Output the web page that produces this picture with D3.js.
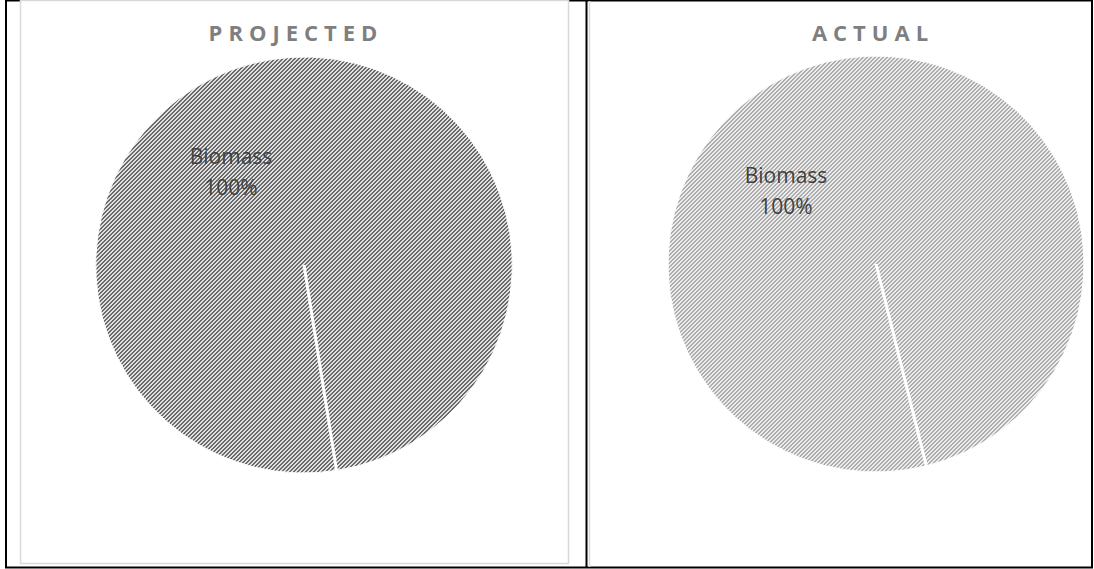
<!DOCTYPE html>
<html>
<head>
<meta charset="utf-8">
<script src="https://cdn.jsdelivr.net/npm/d3@7"></script>
<style>
  html, body { margin: 0; padding: 0; background: #fff; }
  svg { display: block; }
</style>
</head>
<body>
<div id="chart"></div>
<script>
// chart data
var panelTitles = ["PROJECTED", "ACTUAL"];
var categories = ["Biomass"];
var projectedValues = [100];
var actualValues = [100];

var width = 1094, height = 569;

var svg = d3.select("#chart").append("svg")
    .attr("width", width)
    .attr("height", height);

// table borders
svg.append("rect")
    .attr("x", 6).attr("y", 0.5)
    .attr("width", 1086).attr("height", 567)
    .attr("fill", "#fff")
    .attr("stroke", "#000")
    .attr("stroke-width", 2);
svg.append("line")
    .attr("x1", 586.5).attr("x2", 586.5)
    .attr("y1", 0).attr("y2", 568)
    .attr("stroke", "#000").attr("stroke-width", 2);

// chart frames
svg.append("rect")
    .attr("x", 20.5).attr("y", 0.5)
    .attr("width", 548).attr("height", 563)
    .attr("fill", "#fff")
    .attr("stroke", "#d9d9d9")
    .attr("stroke-width", 1.5);
svg.append("line")
    .attr("x1", 589.5).attr("x2", 589.5)
    .attr("y1", 1).attr("y2", 567)
    .attr("stroke", "#d9d9d9").attr("stroke-width", 1.5);

// hatch patterns
var defs = svg.append("defs");
function hatch(id, bg, fg) {
    var p = defs.append("pattern")
        .attr("id", id)
        .attr("patternUnits", "userSpaceOnUse")
        .attr("width", 4).attr("height", 4);
    p.append("rect").attr("width", 4).attr("height", 4).attr("fill", bg);
    d3.range(4).forEach(function(i) {
        [0, 1].forEach(function(k) {
            p.append("rect")
                .attr("x", i)
                .attr("y", (3 - i + k) % 4)
                .attr("width", 1).attr("height", 1)
                .attr("fill", fg)
                .attr("shape-rendering", "crispEdges");
        });
    });
}
hatch("hatchDark", "#e0e0e0", "#6a6a6a");
hatch("hatchLight", "#ececec", "#adadad");

var panels = [
    { title: panelTitles[0], values: projectedValues, cx: 304, cy: 265, titleX: 296,
      start: 171, fill: "url(#hatchDark)", labelDx: -73, labelDy: -101 },
    { title: panelTitles[1], values: actualValues, cx: 876, cy: 264, titleX: 873,
      start: 166, fill: "url(#hatchLight)", labelDx: -90, labelDy: -81 }
];

var radius = 208;
var arc = d3.arc().innerRadius(0).outerRadius(radius);
var pct = d3.format(".0%");

panels.forEach(function(p) {
    var total = d3.sum(p.values);
    var a0 = p.start * Math.PI / 180;
    var pie = d3.pie().sort(null)
        .startAngle(a0).endAngle(a0 + 2 * Math.PI);
    var slices = pie(p.values);

    svg.append("text")
        .attr("x", p.titleX)
        .attr("y", 41)
        .attr("text-anchor", "middle")
        .attr("font-family", "'Open Sans', sans-serif")
        .attr("font-weight", "bold")
        .attr("font-size", 22)
        .attr("letter-spacing", 6)
        .attr("fill", "#7f7f7f")
        .text(p.title);

    var g = svg.append("g")
        .attr("transform", "translate(" + p.cx + "," + p.cy + ")");

    g.selectAll("path")
        .data(slices)
        .enter()
        .append("path")
        .attr("d", arc)
        .attr("fill", p.fill)
        .attr("stroke", "#fff")
        .attr("stroke-width", 1);

    // slice border from centre to edge
    g.selectAll("line.sep")
        .data(slices)
        .enter()
        .append("line")
        .attr("class", "sep")
        .attr("x1", 0).attr("y1", 0)
        .attr("x2", function(d) { return d3.pointRadial(d.startAngle, radius)[0]; })
        .attr("y2", function(d) { return d3.pointRadial(d.startAngle, radius)[1]; })
        .attr("stroke", "#fff")
        .attr("stroke-width", 3);

    var lbl = g.selectAll("text.lbl")
        .data(slices)
        .enter()
        .append("text")
        .attr("class", "lbl")
        .attr("text-anchor", "middle")
        .attr("font-family", "'Open Sans', sans-serif")
        .attr("font-size", 21)
        .attr("fill", "#404040");
    lbl.append("tspan")
        .attr("x", p.labelDx)
        .attr("y", p.labelDy)
        .text(function(d, i) { return categories[i]; });
    lbl.append("tspan")
        .attr("x", p.labelDx)
        .attr("y", p.labelDy + 31)
        .text(function(d) { return pct(d.value / total); });
});
</script>
</body>
</html>
